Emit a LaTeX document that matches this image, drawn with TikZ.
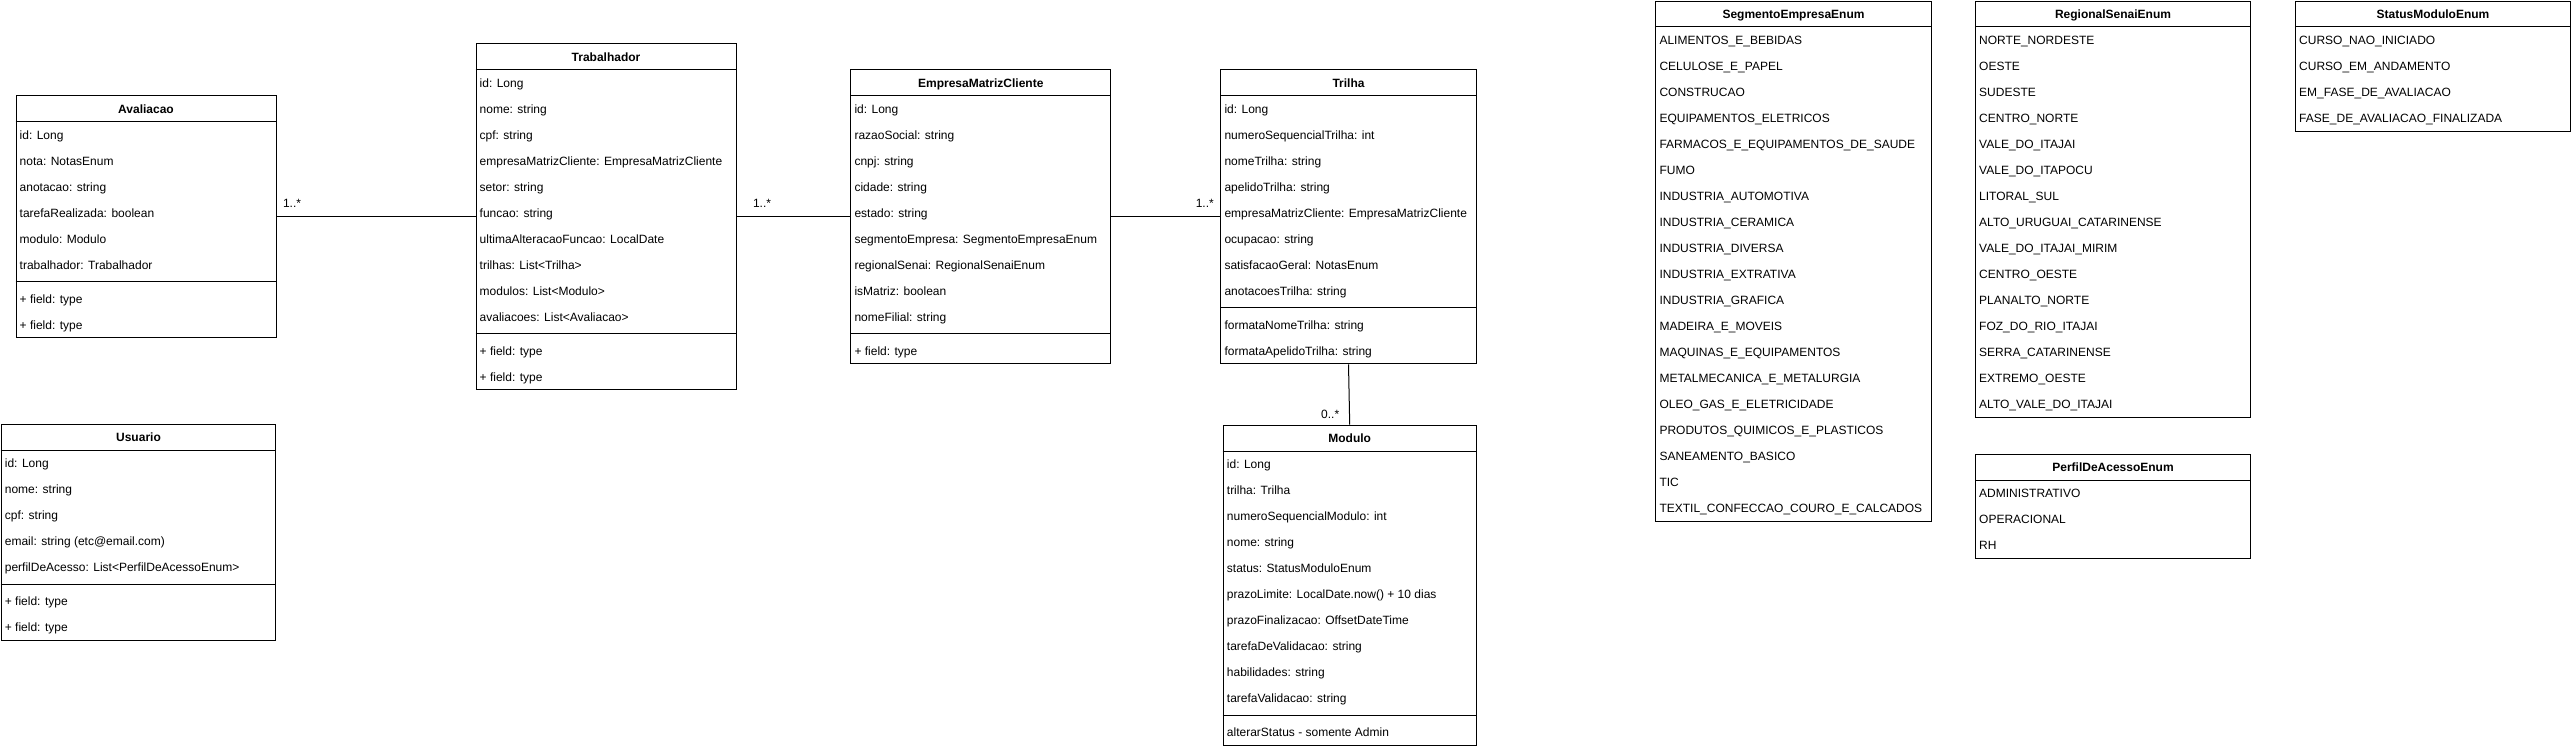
\documentclass[tikz,border=0pt]{standalone}
\usepackage{fontspec}
\setmainfont{Liberation Sans}
\begin{document}
\begin{tikzpicture}[x=1pt, y=-1pt,
    classbox/.style={draw, line width=1pt, anchor=north west, inner sep=0pt},
    classtitle/.style={font=\fontsize{12}{14}\selectfont\bfseries, inner sep=0pt, text height=9.6pt, text depth=0pt},
    attr/.style={font=\fontsize{12}{14}\selectfont, anchor=west, inner sep=0pt, text height=9.6pt, text depth=0pt},
    mult/.style={font=\fontsize{12}{14}\selectfont, inner sep=0pt},
    assoc/.style={line width=1pt}]
    \useasboundingbox (0,0) rectangle (2572,748);

    % Avaliacao
    \node[classbox, minimum width=260pt, minimum height=242pt] (aval) at (15.5,95.3) {};
    \node[classtitle] (avalTitle) at ([yshift=-13pt]aval.north) {Avaliacao};
    \draw (aval.north west) ++(0,26) -- ++(260,0);
    \foreach \t [count=\i] in {{id: Long}, {nota: NotasEnum}, {anotacao: string}, {tarefaRealizada: boolean}, {modulo: Modulo}, {trabalhador: Trabalhador}}
        \path (aval.north west) ++(4,{13+26*\i}) node[attr] (aval-a\i) {\t};
    \draw (aval.north west) ++(0,{30+26*6}) -- ++(260,0);
    \foreach \t [count=\j] in {{+ field: type}, {+ field: type}}
        \path (aval.north west) ++(4,{21+26*(6+\j)}) node[attr] (aval-m\j) {\t};

    % Trabalhador
    \node[classbox, minimum width=260pt, minimum height=346pt] (trab) at (475.5,43.3) {};
    \node[classtitle] (trabTitle) at ([yshift=-13pt]trab.north) {Trabalhador};
    \draw (trab.north west) ++(0,26) -- ++(260,0);
    \foreach \t [count=\i] in {{id: Long}, {nome: string}, {cpf: string}, {empresaMatrizCliente: EmpresaMatrizCliente}, {setor: string}, {funcao: string}, {ultimaAlteracaoFuncao: LocalDate}, {trilhas: List<Trilha>}, {modulos: List<Modulo>}, {avaliacoes: List<Avaliacao>}}
        \path (trab.north west) ++(4,{13+26*\i}) node[attr] (trab-a\i) {\t};
    \draw (trab.north west) ++(0,{30+26*10}) -- ++(260,0);
    \foreach \t [count=\j] in {{+ field: type}, {+ field: type}}
        \path (trab.north west) ++(4,{21+26*(10+\j)}) node[attr] (trab-m\j) {\t};

    % EmpresaMatrizCliente
    \node[classbox, minimum width=260pt, minimum height=294pt] (emc) at (850.3,69.3) {};
    \node[classtitle] (emcTitle) at ([yshift=-13pt]emc.north) {EmpresaMatrizCliente};
    \draw (emc.north west) ++(0,26) -- ++(260,0);
    \foreach \t [count=\i] in {{id: Long}, {razaoSocial: string}, {cnpj: string}, {cidade: string}, {estado: string}, {segmentoEmpresa: SegmentoEmpresaEnum}, {regionalSenai: RegionalSenaiEnum}, {isMatriz: boolean}, {nomeFilial: string}}
        \path (emc.north west) ++(4,{13+26*\i}) node[attr] (emc-a\i) {\t};
    \draw (emc.north west) ++(0,{30+26*9}) -- ++(260,0);
    \path (emc.north west) ++(4,{21+26*10}) node[attr] (emc-m1) {+ field: type};

    % Trilha
    \node[classbox, minimum width=255.4pt, minimum height=294pt] (trilha) at (1220.3,69.3) {};
    \node[classtitle] (trilhaTitle) at ([yshift=-13pt]trilha.north) {Trilha};
    \draw (trilha.north west) ++(0,26) -- ++(255.4,0);
    \foreach \t [count=\i] in {{id: Long}, {numeroSequencialTrilha: int}, {nomeTrilha: string}, {apelidoTrilha: string}, {empresaMatrizCliente: EmpresaMatrizCliente}, {ocupacao: string}, {satisfacaoGeral: NotasEnum}, {anotacoesTrilha: string}}
        \path (trilha.north west) ++(4,{13+26*\i}) node[attr] (trilha-a\i) {\t};
    \draw (trilha.north west) ++(0,{30+26*8}) -- ++(255.4,0);
    \foreach \t [count=\j] in {{formataNomeTrilha: string}, {formataApelidoTrilha: string}}
        \path (trilha.north west) ++(4,{21+26*(8+\j)}) node[attr] (trilha-m\j) {\t};

    % Modulo
    \node[classbox, minimum width=253pt, minimum height=320pt] (modulo) at (1222.7,424.7) {};
    \node[classtitle] (moduloTitle) at ([yshift=-13pt]modulo.north) {Modulo};
    \draw (modulo.north west) ++(0,26) -- ++(253,0);
    \foreach \t [count=\i] in {{id: Long}, {trilha: Trilha}, {numeroSequencialModulo: int}, {nome: string}, {status: StatusModuloEnum}, {prazoLimite: LocalDate.now() + 10 dias}, {prazoFinalizacao: OffsetDateTime}, {tarefaDeValidacao: string}, {habilidades: string}, {tarefaValidacao: string}}
        \path (modulo.north west) ++(4,{13+26*\i}) node[attr] (modulo-a\i) {\t};
    \draw (modulo.north west) ++(0,{30+26*10}) -- ++(253,0);
    \path (modulo.north west) ++(4,{21+26*11}) node[attr] (modulo-m1) {alterarStatus - somente Admin};

    % Usuario
    \node[classbox, minimum width=274.6pt, minimum height=216pt] (usuario) at (0.7,424) {};
    \node[classtitle] (usuarioTitle) at ([yshift=-13pt]usuario.north) {Usuario};
    \draw (usuario.north west) ++(0,26) -- ++(274.6,0);
    \foreach \t [count=\i] in {{id: Long}, {nome: string}, {cpf: string}, {email: string (etc@email.com)}, {perfilDeAcesso: List<PerfilDeAcessoEnum>}}
        \path (usuario.north west) ++(4,{13+26*\i}) node[attr] (usuario-a\i) {\t};
    \draw (usuario.north west) ++(0,{30+26*5}) -- ++(274.6,0);
    \foreach \t [count=\j] in {{+ field: type}, {+ field: type}}
        \path (usuario.north west) ++(4,{21+26*(5+\j)}) node[attr] (usuario-m\j) {\t};

    % enums
    \node[classbox, minimum width=275.4pt, minimum height=520pt] (segEnum) at (1655.3,0.5) {};
    \node[classtitle] (segEnumTitle) at ([yshift=-13pt]segEnum.north) {SegmentoEmpresaEnum};
    \draw (segEnum.north west) ++(0,26) -- ++(275.4,0);
    \foreach \t [count=\i] in {ALIMENTOS\_E\_BEBIDAS, CELULOSE\_E\_PAPEL, CONSTRUCAO, EQUIPAMENTOS\_ELETRICOS, FARMACOS\_E\_EQUIPAMENTOS\_DE\_SAUDE, FUMO, INDUSTRIA\_AUTOMOTIVA, INDUSTRIA\_CERAMICA, INDUSTRIA\_DIVERSA, INDUSTRIA\_EXTRATIVA, INDUSTRIA\_GRAFICA, MADEIRA\_E\_MOVEIS, MAQUINAS\_E\_EQUIPAMENTOS, METALMECANICA\_E\_METALURGIA, OLEO\_GAS\_E\_ELETRICIDADE, PRODUTOS\_QUIMICOS\_E\_PLASTICOS, SANEAMENTO\_BASICO, TIC, TEXTIL\_CONFECCAO\_COURO\_E\_CALCADOS}
        \path (segEnum.north west) ++(4,{13+26*\i}) node[attr] (segEnum-\i) {\t};

    \node[classbox, minimum width=275pt, minimum height=416pt] (regEnum) at (1975,0.5) {};
    \node[classtitle] (regEnumTitle) at ([yshift=-13pt]regEnum.north) {RegionalSenaiEnum};
    \draw (regEnum.north west) ++(0,26) -- ++(275,0);
    \foreach \t [count=\i] in {NORTE\_NORDESTE, OESTE, SUDESTE, CENTRO\_NORTE, VALE\_DO\_ITAJAI, VALE\_DO\_ITAPOCU, LITORAL\_SUL, ALTO\_URUGUAI\_CATARINENSE, VALE\_DO\_ITAJAI\_MIRIM, CENTRO\_OESTE, PLANALTO\_NORTE, FOZ\_DO\_RIO\_ITAJAI, SERRA\_CATARINENSE, EXTREMO\_OESTE, ALTO\_VALE\_DO\_ITAJAI}
        \path (regEnum.north west) ++(4,{13+26*\i}) node[attr] (regEnum-\i) {\t};

    \node[classbox, minimum width=275pt, minimum height=130pt] (statusEnum) at (2295,0.5) {};
    \node[classtitle] (statusEnumTitle) at ([yshift=-13pt]statusEnum.north) {StatusModuloEnum};
    \draw (statusEnum.north west) ++(0,26) -- ++(275,0);
    \foreach \t [count=\i] in {CURSO\_NAO\_INICIADO, CURSO\_EM\_ANDAMENTO, EM\_FASE\_DE\_AVALIACAO, FASE\_DE\_AVALIACAO\_FINALIZADA}
        \path (statusEnum.north west) ++(4,{13+26*\i}) node[attr] (statusEnum-\i) {\t};

    \node[classbox, minimum width=275pt, minimum height=104pt] (perfilEnum) at (1975,454) {};
    \node[classtitle] (perfilEnumTitle) at ([yshift=-13pt]perfilEnum.north) {PerfilDeAcessoEnum};
    \draw (perfilEnum.north west) ++(0,26) -- ++(275,0);
    \foreach \t [count=\i] in {ADMINISTRATIVO, OPERACIONAL, RH}
        \path (perfilEnum.north west) ++(4,{13+26*\i}) node[attr] (perfilEnum-\i) {\t};

    % associations
    \draw[assoc] (aval.east) -- (trab.west) node[mult, pos=0, anchor=base west, xshift=6pt, yshift=9.5pt] (multAval) {1..*};
    \draw[assoc] (trab.east) -- (emc.west) node[mult, pos=0, anchor=base west, xshift=16pt, yshift=9.5pt] (multTrab) {1..*};
    \draw[assoc] (emc.east) -- (trilha.west) node[mult, pos=1, anchor=base east, xshift=-6pt, yshift=9.5pt] (multTrilha) {1..*};
    \draw[assoc] (trilha.south) -- (modulo.north) node[mult, pos=1, anchor=base east, xshift=-10pt, yshift=6pt] (multModulo) {0..*};
\end{tikzpicture}
\end{document}
